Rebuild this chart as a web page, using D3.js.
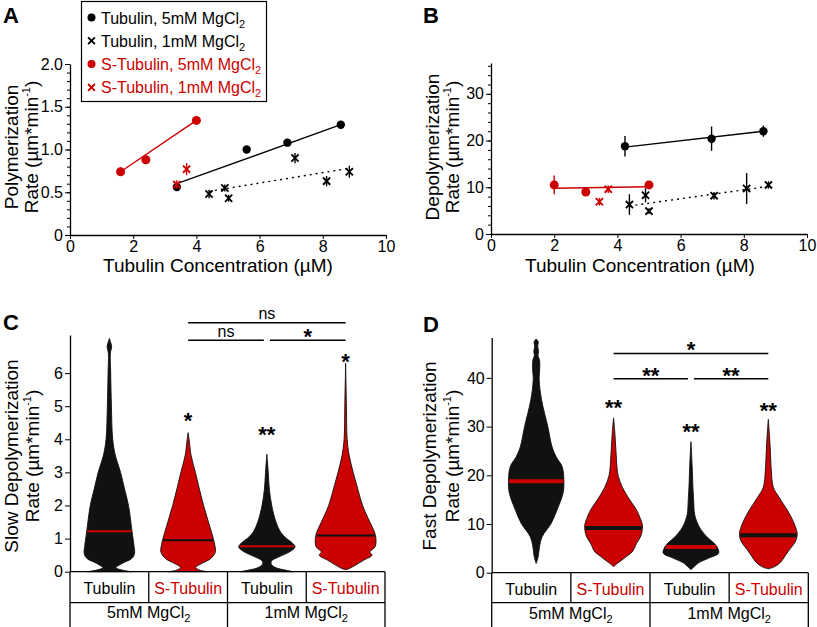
<!DOCTYPE html>
<html><head><meta charset="utf-8">
<script src="https://cdn.jsdelivr.net/npm/d3@7"></script>
<style>body{margin:0;background:#fff}svg{display:block}text{font-family:'Liberation Sans',Arial,Helvetica,sans-serif;fill:#000}</style>
</head><body><svg id="c" width="817" height="627"></svg>
<script>
const RED = "#cc0000";
// ---------- Panel A: polymerization rate ----------
const aTub5X = [3.38, 5.59, 6.88, 8.57];
const aTub5Y = [0.56, 1.00, 1.08, 1.29];
const aTub5E = [0.03, 0.02, 0.02, 0.02];
const aTub1X = [4.40, 4.90, 5.02, 7.12, 8.12, 8.84];
const aTub1Y = [0.48, 0.55, 0.43, 0.90, 0.63, 0.74];
const aTub1E = [0.05, 0.04, 0.04, 0.06, 0.06, 0.07];
const aSTub5X = [1.60, 2.40, 4.00];
const aSTub5Y = [0.74, 0.88, 1.34];
const aSTub5E = [0.05, 0.03, 0.03];
const aSTub1X = [3.38, 3.69];
const aSTub1Y = [0.59, 0.77];
const aSTub1E = [0.05, 0.07];
const aFitTub5 = [[3.38, 0.60], [8.57, 1.29]];
const aFitTub1 = [[4.40, 0.51], [8.84, 0.78]];
const aFitSTub5 = [[1.60, 0.74], [4.00, 1.34]];
const aYTicks = [0, 0.5, 1.0, 1.5, 2.0];
const xTicks = [0, 2, 4, 6, 8, 10];
// ---------- Panel B: depolymerization rate ----------
const bTub5X = [4.24, 6.98, 8.62];
const bTub5Y = [18.8, 20.4, 22.0];
const bTub5E = [2.2, 2.6, 1.2];
const bTub1X = [4.38, 4.89, 5.00, 7.06, 8.09, 8.78];
const bTub1Y = [6.3, 8.3, 4.9, 8.2, 9.75, 10.5];
const bTub1E = [2.2, 1.5, 0.6, 0.8, 3.3, 0.8];
const bSTub5X = [2.0, 3.0, 5.0];
const bSTub5Y = [10.5, 9.0, 10.5];
const bSTub5E = [2.0, 0.8, 0.8];
const bSTub1X = [3.43, 3.71];
const bSTub1Y = [6.9, 9.6];
const bSTub1E = [0.8, 0.8];
const bFitTub5 = [[4.24, 18.6], [8.62, 22.0]];
const bFitTub1 = [[4.38, 6.0], [8.78, 10.2]];
const bFitSTub5 = [[2.0, 9.8], [5.0, 10.1]];
const bYTicks = [0, 10, 20, 30];
// ---------- Legend ----------
const legendLabels = ["Tubulin, 5mM MgCl", "Tubulin, 1mM MgCl", "S-Tubulin, 5mM MgCl", "S-Tubulin, 1mM MgCl"];
const legendColors = ["#000", "#000", RED, RED];
const legendShapes = ["circle", "x", "circle", "x"];
// ---------- Panels C/D: categories ----------
const groupKeys = ["t5", "s5", "t1", "s1"];
const groupLabels = ["Tubulin", "S-Tubulin", "Tubulin", "S-Tubulin"];
const groupColors = ["#000", RED, "#000", RED];
const conditionLabels = ["5mM MgCl", "1mM MgCl"];
const medianColors = [RED, "#000", RED, "#000"];
// violin profiles: [rate, relative density]
const cTub5 = [[0,0.73],[0.05,0.42],[0.12,0.22],[0.25,0.42],[0.4,0.74],[0.55,0.83],[0.8,0.81],[1.2,0.75],[2.0,0.63],[2.5,0.5],[3.0,0.37],[3.5,0.2],[4.0,0.11],[5.0,0.067],[6.0,0.043],[6.6,0.033],[6.8,0.075],[6.95,0.033],[7.05,0]];
const cSTub5 = [[0,0.67],[0.05,0.37],[0.13,0.25],[0.25,0.45],[0.4,0.75],[0.6,0.9],[0.8,0.88],[1.0,0.83],[1.5,0.67],[2.0,0.51],[2.5,0.37],[3.0,0.24],[3.5,0.1],[4.0,0.03],[4.2,0]];
const cTub1 = [[0,0.87],[0.05,0.6],[0.12,0.3],[0.22,0.15],[0.32,0.15],[0.45,0.4],[0.6,0.75],[0.75,0.93],[0.9,0.8],[1.0,0.65],[1.2,0.45],[1.5,0.3],[2.0,0.16],[2.5,0.08],[3.0,0.045],[3.55,0]];
const cSTub1 = [[0.06,0],[0.1,0.13],[0.2,0.33],[0.35,0.6],[0.5,0.87],[0.6,0.8],[0.75,0.97],[1.0,1.0],[1.2,0.95],[1.5,0.8],[2.0,0.56],[2.5,0.4],[3.0,0.25],[3.5,0.12],[4.0,0.05],[5.0,0.027],[6.3,0]];
const cMedians = [1.22, 0.95, 0.77, 1.09];
const cYTicks = [0, 1, 2, 3, 4, 5, 6];
const dTub5 = [[1.9,0],[3.3,0.067],[5.3,0.11],[7.4,0.2],[10.1,0.5],[12.9,0.7],[16.3,0.9],[18.8,0.93],[21.8,0.87],[23.8,0.67],[25.9,0.53],[30,0.39],[35.5,0.18],[39.6,0.1],[42,0.12],[43.7,0.11],[44.6,0.06],[45.4,0.08],[46.5,0.05],[47.4,0.07],[48,0]];
const dSTub5 = [[1.2,0],[1.8,0.1],[2.6,0.28],[3.3,0.42],[4.3,0.63],[6.0,0.77],[7.6,0.92],[9.6,0.97],[10.6,0.93],[12.9,0.77],[14.8,0.56],[17.5,0.3],[20,0.15],[23,0.1],[26,0.07],[29,0.04],[31.8,0]];
const dTub1 = [[0.6,0],[1.2,0.1],[2.0,0.25],[3.0,0.6],[4.0,0.93],[5.0,0.9],[6.1,0.77],[7.4,0.53],[9.4,0.28],[11.8,0.13],[15,0.09],[17.5,0.067],[22,0.04],[26.9,0]];
const dSTub1 = [[0.8,0],[1.2,0.2],[2.2,0.42],[3.6,0.58],[4.9,0.73],[6.3,0.9],[7.9,0.97],[9.6,0.9],[12.2,0.7],[15.4,0.37],[17.5,0.17],[21,0.1],[25.2,0.067],[28,0.04],[31.5,0]];
const dMedians = [18.8, 9.2, 5.3, 7.7];
const dYTicks = [0, 10, 20, 30, 40];
// significance annotations
const cStars = [["s5", 4.73, "*"], ["t1", 4.31, "**"], ["s1", 6.52, "*"]];
const dStars = [["s5", 34.9, "**"], ["t1", 30.1, "**"], ["s1", 34.4, "**"]];
const cBrackets = [["s5", "s1", 7.52, "ns", 0], ["s5", "t1", 6.99, "ns", -1], ["t1", "s1", 6.99, "*", 1]];
const dBrackets = [["s5", "s1", 45.0, "*", 0], ["s5", "t1", 39.8, "**", -1], ["t1", "s1", 39.8, "**", 1]];

const svg = d3.select("#c");

function styleAxis(g, fs) {
  g.attr("font-family", null).attr("font-size", fs);
  g.selectAll("text").attr("fill", "#000");
  g.selectAll("line").attr("stroke", "#000");
  g.select(".domain").attr("stroke", "#000").attr("stroke-width", 1.3);
}
function yTitle(xb1, xb2, cy, line1) {
  svg.append("text").attr("transform", `translate(${xb1},${cy}) rotate(-90)`)
    .attr("text-anchor", "middle").attr("font-size", 19).text(line1);
  const t = svg.append("text").attr("transform", `translate(${xb2},${cy}) rotate(-90)`)
    .attr("text-anchor", "middle").attr("font-size", 19);
  t.append("tspan").text("Rate (µm*min");
  t.append("tspan").attr("font-size", 11).attr("dy", -8).text("-1");
  t.append("tspan").attr("dy", 8).text(")");
}
function subText(sel, main, sub, subSize) {
  sel.append("tspan").text(main);
  sel.append("tspan").attr("font-size", subSize).attr("dy", 4).text(sub);
}
function marker(g, shape, cx, cy, color, s) {
  if (shape === "circle") {
    g.append("circle").attr("cx", cx).attr("cy", cy).attr("r", s).attr("fill", color);
  } else {
    g.append("path").attr("d", `M${cx-s},${cy-s}L${cx+s},${cy+s}M${cx-s},${cy+s}L${cx+s},${cy-s}`)
      .attr("stroke", color).attr("stroke-width", 1.9).attr("fill", "none");
  }
}
function series(g, x, y, xs, ys, es, shape, color, s) {
  xs.forEach((xv, i) => {
    g.append("line").attr("x1", x(xv)).attr("x2", x(xv)).attr("y1", y(ys[i] - es[i])).attr("y2", y(ys[i] + es[i]))
      .attr("stroke", color).attr("stroke-width", 1.4);
    marker(g, shape, x(xv), y(ys[i]), color, s);
  });
}
function fit(g, x, y, pts, color, dash) {
  const l = d3.line().x(d => x(d[0])).y(d => y(d[1]));
  g.append("path").attr("d", l(pts)).attr("stroke", color).attr("stroke-width", 1.4).attr("fill", "none")
    .attr("stroke-dasharray", dash ? "2,4" : null);
}
function panelLabel(x, y, t) {
  svg.append("text").attr("x", x).attr("y", y).attr("font-size", 22).attr("font-weight", "bold").text(t);
}

// ================= Panel A =================
const xA = d3.scaleLinear([0, 10], [70, 386]);
const yA = d3.scaleLinear([0, 2], [235, 64]);
styleAxis(svg.append("g").attr("transform", "translate(0,235)")
  .call(d3.axisBottom(xA).tickValues(xTicks).tickSize(4).tickPadding(2).tickSizeOuter(0).tickFormat(d3.format("d"))), 16);
styleAxis(svg.append("g").attr("transform", "translate(70,0)")
  .call(d3.axisLeft(yA).tickValues(aYTicks).tickSize(5).tickPadding(2).tickSizeOuter(0)
    .tickFormat(d => d === 0 ? "0" : d3.format(".1f")(d))), 16);
svg.append("g").attr("transform", "translate(70,0)")
  .call(d3.axisLeft(yA).tickValues(d3.range(0, 20).map(i => i / 10)).tickSize(3).tickFormat(""))
  .call(g => { g.select(".domain").remove(); g.selectAll("line").attr("stroke", "#000"); });
const gA = svg.append("g");
fit(gA, xA, yA, aFitSTub5, RED, false);
fit(gA, xA, yA, aFitTub5, "#000", false);
fit(gA, xA, yA, aFitTub1, "#000", true);
series(gA, xA, yA, aSTub5X, aSTub5Y, aSTub5E, "circle", RED, 4.5);
series(gA, xA, yA, aTub5X, aTub5Y, aTub5E, "circle", "#000", 4.2);
series(gA, xA, yA, aTub1X, aTub1Y, aTub1E, "x", "#000", 3.6);
series(gA, xA, yA, aSTub1X, aSTub1Y, aSTub1E, "x", RED, 3.6);
yTitle(18, 37.5, 147, "Polymerization");
svg.append("text").attr("x", 218).attr("y", 272).attr("text-anchor", "middle").attr("font-size", 19)
  .text("Tubulin Concentration (µM)");
panelLabel(3, 23, "A");
// legend
const lg = svg.append("g");
lg.append("rect").attr("x", 81.5).attr("y", 1.5).attr("width", 185).attr("height", 100)
  .attr("fill", "#fff").attr("stroke", "#000").attr("stroke-width", 1.2);
legendLabels.forEach((lab, i) => {
  const cy = 17.5 + i * 23.3;
  marker(lg, legendShapes[i], 91.5, cy, legendColors[i], legendShapes[i] === "circle" ? 4 : 3.4);
  const t = lg.append("text").attr("x", 101).attr("y", cy + 6).attr("font-size", 16).attr("fill", legendColors[i]);
  subText(t, lab, "2", 11);
  t.selectAll("tspan").attr("fill", legendColors[i]);
});

// ================= Panel B =================
const xB = d3.scaleLinear([0, 10], [491, 807]);
const yB = d3.scaleLinear([0, 36.6], [234, 63]);
styleAxis(svg.append("g").attr("transform", "translate(0,234)")
  .call(d3.axisBottom(xB).tickValues(xTicks).tickSize(4).tickPadding(2).tickSizeOuter(0).tickFormat(d3.format("d"))), 16);
styleAxis(svg.append("g").attr("transform", "translate(491,0)")
  .call(d3.axisLeft(yB).tickValues(bYTicks).tickSize(5).tickPadding(2).tickSizeOuter(0).tickFormat(d3.format("d"))), 16);
svg.append("g").attr("transform", "translate(491,0)")
  .call(d3.axisLeft(yB).tickValues(d3.range(0, 19).map(i => i * 2)).tickSize(3).tickFormat(""))
  .call(g => { g.select(".domain").remove(); g.selectAll("line").attr("stroke", "#000"); });
const gB = svg.append("g");
fit(gB, xB, yB, bFitSTub5, RED, false);
fit(gB, xB, yB, bFitTub5, "#000", false);
fit(gB, xB, yB, bFitTub1, "#000", true);
series(gB, xB, yB, bSTub5X, bSTub5Y, bSTub5E, "circle", RED, 4.5);
series(gB, xB, yB, bTub5X, bTub5Y, bTub5E, "circle", "#000", 4.2);
series(gB, xB, yB, bTub1X, bTub1Y, bTub1E, "x", "#000", 3.6);
series(gB, xB, yB, bSTub1X, bSTub1Y, bSTub1E, "x", RED, 3.6);
yTitle(439, 459, 147, "Depolymerization");
svg.append("text").attr("x", 640).attr("y", 272).attr("text-anchor", "middle").attr("font-size", 19)
  .text("Tubulin Concentration (µM)");
panelLabel(423, 23, "B");

// ================= Violin panels =================
function interp(p, v) {
  for (let i = 0; i < p.length - 1; i++) {
    if (v >= p[i][0] && v <= p[i + 1][0]) {
      const t = (v - p[i][0]) / (p[i + 1][0] - p[i][0]);
      return p[i][1] + t * (p[i + 1][1] - p[i][1]);
    }
  }
  return 0;
}
function violinPanel(o) {
  const y = d3.scaleLinear([0, o.yMax], [o.y0, o.yTop]);
  const tb = d3.scaleBand(groupKeys, [o.x0, o.x1]);
  const vb = d3.scaleBand(groupKeys, o.vRange);
  const w = d3.scaleLinear([0, 1], [0, vb.step() * 0.385]);
  const cx = k => vb(k) + vb.bandwidth() / 2;
  const g = svg.append("g");
  o.profiles.forEach((p, i) => {
    const c = cx(groupKeys[i]);
    const area = d3.area().curve(d3.curveCatmullRom.alpha(0.5))
      .y(d => y(d[0])).x0(d => c - w(d[1])).x1(d => c + w(d[1]));
    g.append("path").attr("d", area(p)).attr("fill", groupColors[i] === RED ? RED : "#111")
      .attr("stroke", "#111").attr("stroke-width", 0.9);
    const hw = w(interp(p, o.medians[i])) - 0.5;
    g.append("line").attr("x1", c - hw).attr("x2", c + hw).attr("y1", y(o.medians[i])).attr("y2", y(o.medians[i]))
      .attr("stroke", medianColors[i] === RED ? RED : "#111").attr("stroke-width", o.medW);
  });
  styleAxis(svg.append("g").attr("transform", `translate(${o.x0},0)`)
    .call(d3.axisLeft(y).tickValues(o.ticks).tickSize(5).tickPadding(2).tickSizeOuter(0).tickFormat(d3.format("d"))), 16);
  const tg = svg.append("g").attr("stroke", "#000").attr("stroke-width", 1.3);
  tg.append("line").attr("x1", o.x0).attr("x2", o.x1).attr("y1", o.y0).attr("y2", o.y0);
  tg.append("line").attr("x1", o.x0).attr("x2", o.x1).attr("y1", o.rowMid).attr("y2", o.rowMid);
  groupKeys.forEach((k, i) => {
    tg.append("line").attr("x1", tb(k)).attr("x2", tb(k)).attr("y1", o.y0).attr("y2", i % 2 === 0 ? 627 : o.rowMid);
  });
  tg.append("line").attr("x1", o.x1).attr("x2", o.x1).attr("y1", o.y0).attr("y2", 627);
  groupKeys.forEach((k, i) => {
    svg.append("text").attr("x", tb(k) + tb.bandwidth() / 2).attr("y", o.row1Base).attr("text-anchor", "middle")
      .attr("font-size", 16).style("fill", groupColors[i]).text(groupLabels[i]);
  });
  conditionLabels.forEach((lab, j) => {
    const t = svg.append("text").attr("x", tb(groupKeys[j * 2]) + tb.bandwidth()).attr("y", o.row2Base)
      .attr("text-anchor", "middle").attr("font-size", 16);
    subText(t, lab, "2", 11);
  });
  const starFs = 22;
  o.stars.forEach(([k, v, lab]) => {
    svg.append("text").attr("x", cx(k)).attr("y", y(v) + starFs * 0.58).attr("text-anchor", "middle")
      .attr("font-size", starFs).attr("font-weight", "bold").text(lab);
  });
  o.brackets.forEach(([a, b, v, lab, side]) => {
    let xa = cx(a), xb = cx(b);
    if (side === -1) xb -= 3; if (side === 1) xa += 3;
    svg.append("line").attr("x1", xa).attr("x2", xb).attr("y1", y(v)).attr("y2", y(v))
      .attr("stroke", "#000").attr("stroke-width", 1.5);
    const isStar = lab.indexOf("*") >= 0;
    svg.append("text").attr("x", (xa + xb) / 2)
      .attr("y", isStar ? y(v) - 9 + starFs * 0.58 : y(v) - 3.5)
      .attr("text-anchor", "middle").attr("font-size", isStar ? starFs : 16)
      .attr("font-weight", isStar ? "bold" : null).text(lab);
  });
}
violinPanel({ y0: 571.7, yTop: 571.7 - 7.15 * 33.1, yMax: 7.15, x0: 70, x1: 385, vRange: [70, 385],
  profiles: [cTub5, cSTub5, cTub1, cSTub1], medians: cMedians, medW: 2, ticks: cYTicks,
  rowMid: 602.7, row1Base: 594, row2Base: 618, stars: cStars, brackets: cBrackets });
violinPanel({ y0: 572.7, yTop: 572.7 - 48.3 * 4.87, yMax: 48.3, x0: 491.7, x1: 808.3, vRange: [497.5, 807],
  profiles: [dTub5, dSTub5, dTub1, dSTub1], medians: dMedians, medW: 4, ticks: dYTicks,
  rowMid: 602.7, row1Base: 595, row2Base: 619, stars: dStars, brackets: dBrackets });
yTitle(18, 39, 456, "Slow Depolymerization");
yTitle(436, 459, 456, "Fast Depolymerization");
panelLabel(3, 330, "C");
panelLabel(423, 332, "D");
</script></body></html>
